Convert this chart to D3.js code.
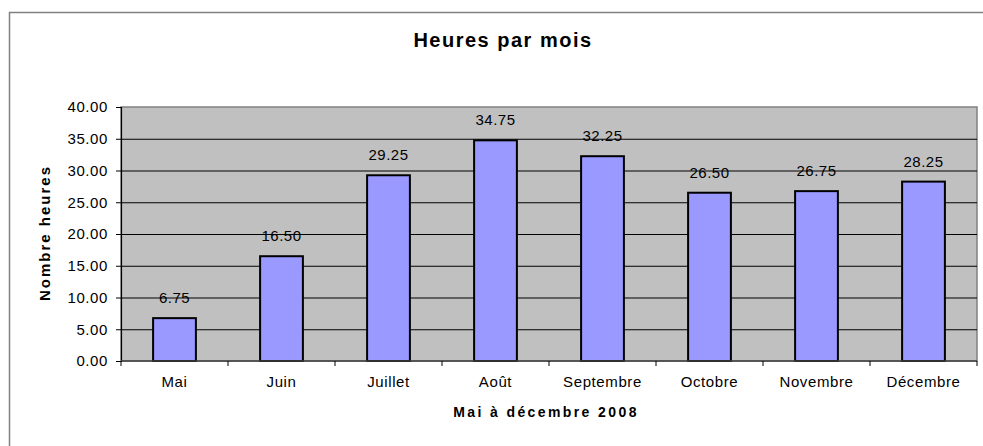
<!DOCTYPE html>
<html>
<head>
<meta charset="utf-8">
<script src="https://cdn.jsdelivr.net/npm/d3@7"></script>
<style>
  body { margin: 0; background: #fff; }
  svg { display: block; font-family: "Liberation Sans", Arial, sans-serif; }
</style>
</head>
<body>
<script>
// Data
const months = ["Mai", "Juin", "Juillet", "Août", "Septembre", "Octobre", "Novembre", "Décembre"];
const hours = [6.75, 16.5, 29.25, 34.75, 32.25, 26.5, 26.75, 28.25];
const yTicks = [0, 5, 10, 15, 20, 25, 30, 35, 40];

const w = 983;
const h = 446;
const plot = { left: 121, right: 977, top: 107, bottom: 361 };

const svg = d3.select("body").append("svg").attr("width", w).attr("height", h);

// Outer chart border (runs off the right and bottom edges)
svg.append("rect")
  .attr("x", 9.5).attr("y", 12.5)
  .attr("width", 1000).attr("height", 500)
  .attr("fill", "#fff")
  .attr("stroke", "#808080")
  .attr("stroke-width", 1.5);

// Scales
const x = d3.scaleBand()
  .domain(months)
  .range([plot.left, plot.right])
  .paddingInner(0.6)
  .paddingOuter(0.3);

const xCat = d3.scaleBand().domain(months).range([plot.left, plot.right]);

const y = d3.scaleLinear().domain([0, 40]).range([plot.bottom, plot.top]);

// Plot background
svg.append("rect")
  .attr("x", plot.left).attr("y", plot.top)
  .attr("width", plot.right - plot.left)
  .attr("height", plot.bottom - plot.top)
  .attr("fill", "#c0c0c0")
  .attr("stroke", "#808080")
  .attr("stroke-width", 1.5);

// Gridlines
svg.append("g")
  .attr("transform", `translate(${plot.left},0)`)
  .call(d3.axisLeft(y).tickValues(yTicks.slice(1, -1)).tickSize(-(plot.right - plot.left)).tickFormat(""))
  .call((g) => g.select(".domain").remove())
  .call((g) => g.selectAll("line").attr("stroke", "#000").attr("stroke-width", 1));

// Bars
svg.selectAll(".bar")
  .data(months)
  .enter()
  .append("rect")
  .attr("class", "bar")
  .attr("x", (d) => x(d))
  .attr("y", (d, i) => y(hours[i]))
  .attr("width", x.bandwidth())
  .attr("height", (d, i) => y(0) - y(hours[i]))
  .attr("fill", "#9999ff")
  .attr("stroke", "#000")
  .attr("stroke-width", 2);

// Value labels
svg.selectAll(".val")
  .data(months)
  .enter()
  .append("text")
  .attr("class", "val")
  .attr("x", (d) => x(d) + x.bandwidth() / 2)
  .attr("y", (d, i) => y(hours[i]) - 15)
  .attr("text-anchor", "middle")
  .style("font-size", "15px")
  .style("letter-spacing", "0.5px")
  .attr("fill", "#000")
  .text((d, i) => d3.format(".2f")(hours[i]));

// Y axis
const yAxis = svg.append("g")
  .attr("transform", `translate(${plot.left},0)`)
  .call(d3.axisLeft(y).tickValues(yTicks).tickFormat(d3.format(".2f")).tickSize(5).tickPadding(8));
yAxis.select(".domain").attr("stroke", "#000").attr("stroke-width", 1.2);
yAxis.selectAll("line").attr("stroke", "#000");
yAxis.selectAll("text")
  .style("font-size", "15px")
  .style("letter-spacing", "0.6px")
  .style("font-family", "'Liberation Sans', Arial, sans-serif")
  .attr("fill", "#000");

// X axis line and category separators
svg.append("line")
  .attr("x1", plot.left).attr("x2", plot.right)
  .attr("y1", plot.bottom).attr("y2", plot.bottom)
  .attr("stroke", "#404040").attr("stroke-width", 1.5);

svg.selectAll(".xtick")
  .data(months.concat(["end"]))
  .enter()
  .append("line")
  .attr("class", "xtick")
  .attr("x1", (d) => (d === "end" ? plot.right : xCat(d)))
  .attr("x2", (d) => (d === "end" ? plot.right : xCat(d)))
  .attr("y1", plot.bottom)
  .attr("y2", plot.bottom + 5)
  .attr("stroke", "#000");

svg.selectAll(".cat")
  .data(months)
  .enter()
  .append("text")
  .attr("class", "cat")
  .attr("x", (d) => xCat(d) + xCat.bandwidth() / 2)
  .attr("y", 387)
  .attr("text-anchor", "middle")
  .style("font-size", "15px")
  .style("letter-spacing", "0.6px")
  .attr("fill", "#000")
  .text((d) => d);

// Title
svg.append("text")
  .attr("x", 503)
  .attr("y", 47)
  .attr("text-anchor", "middle")
  .style("font-size", "20px")
  .style("font-weight", "bold")
  .style("letter-spacing", "1.5px")
  .text("Heures par mois");

// Axis titles
svg.append("text")
  .attr("x", 546)
  .attr("y", 417)
  .attr("text-anchor", "middle")
  .style("font-size", "14px")
  .style("font-weight", "bold")
  .style("letter-spacing", "2.4px")
  .text("Mai à décembre 2008");

svg.append("text")
  .attr("transform", "translate(50,233) rotate(-90)")
  .attr("text-anchor", "middle")
  .style("font-size", "15px")
  .style("font-weight", "900")
  .style("letter-spacing", "2px")
  .text("Nombre heures");
</script>
</body>
</html>
